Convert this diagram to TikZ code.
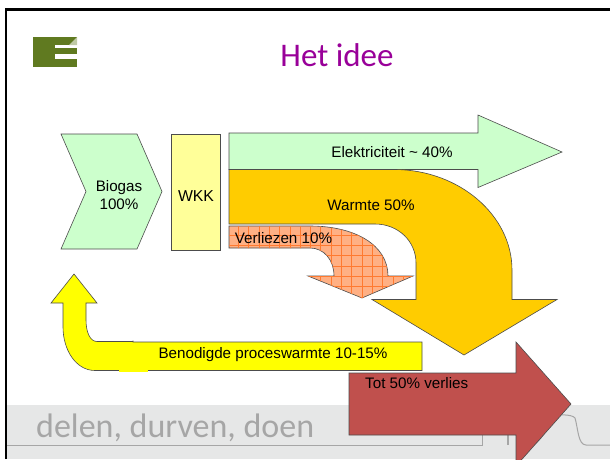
\documentclass[tikz,border=0pt]{standalone}
\usepackage{fontspec}
\setmainfont{Liberation Sans}
\newfontfamily\calib{Carlito}
\definecolor{mint}{HTML}{CCFFCC}
\definecolor{wkkyel}{HTML}{FFFF99}
\definecolor{warm}{HTML}{FFCC00}
\definecolor{lossor}{HTML}{FFB084}
\definecolor{gridor}{HTML}{FF7A30}
\definecolor{pureyel}{HTML}{FFFF00}
\definecolor{redb}{HTML}{C0504D}
\definecolor{band}{HTML}{E6E7E7}
\definecolor{slog}{HTML}{A6A6A6}
\definecolor{titlep}{HTML}{990099}
\definecolor{logog}{HTML}{607A20}
\tikzset{
  shapeline/.style={draw=black!70,line width=0.6pt,line join=miter},
  lab/.style={font=\fontsize{15.2}{18}\selectfont,text=black,inner sep=0pt,align=center},
}
\begin{document}
\begin{tikzpicture}[x=1pt,y=-1pt]
\useasboundingbox (0,0) rectangle (610,459);
\fill[white] (0,0) rectangle (610,459);
% footer band
\fill[band] (7,405) rectangle (610,459);
\draw[slog,line width=1pt] (7,445) -- (482,445) -- (482,431);
\draw[slog,line width=1.5pt] (508,431) -- (508,445);
\draw[slog,line width=1pt] (533,445) .. controls (542,440) and (546,430) .. (552,417) .. controls (556,414) and (572,414) .. (575,418) .. controls (578,428) and (578,445) .. (586,445) -- (610,445);
\node[anchor=base west,inner sep=0pt,text=slog,font=\calib\fontsize{34}{40}\selectfont] (slogan) at (36,437) {delen, durven, doen};
% frame
\draw[black,line width=2.4pt] (6.2,459) -- (6.2,9.5) -- (610,9.5);
% logo
\fill[logog] (33,37) rectangle (77,67);
\fill[white] (55,45) rectangle (77,48);
\fill[white] (55,54) rectangle (77,59);
\fill[logog!40!white] (77,37) -- (69,45) -- (77,45) -- cycle;
% title
\node[anchor=base,inner sep=0pt,text=titlep,font=\calib\fontsize{33}{38}\selectfont] (title) at (337,66) {Het idee};
% Biogas
\draw[shapeline,fill=mint] (61,134) -- (137,134) -- (162,191.5) -- (137,249) -- (61,249) -- (86,191.5) -- cycle;
\node[lab] (biogas) at (119,195) {Biogas\\100\%};
% WKK
\node[draw=black!70,line width=0.6pt,fill=wkkyel,minimum width=48.5pt,minimum height=116pt,inner sep=0pt,anchor=north west] (wkk) at (171.3,134) {};
\node[inner sep=0pt,font=\fontsize{15.8}{18}\selectfont] (wkklabel) at (196,196.5) {WKK};
% electricity
\draw[shapeline,fill=mint] (229,133) -- (478,133) -- (478,115) -- (562,152) -- (478,187.5) -- (478,169.5) -- (229,169.5) -- cycle;
\node[lab] (elek) at (392,152) {Elektriciteit \char`\~{} 40\%};
% warmth
\draw[shapeline,fill=warm] (229,169.5) -- (395,169.5) .. controls (459,170) and (512,215) .. (512,270) -- (512,299.5) -- (557,299.5) -- (464,355) -- (372,299.5) -- (416,299.5) -- (416,263) .. controls (416,241) and (398,224) .. (375,224) -- (229,224) -- cycle;
\node[lab] (warmte) at (371,205) {Warmte 50\%};
% losses
\draw[shapeline,fill=lossor] (229,226) -- (310,226) .. controls (355,226) and (388,245) .. (388,276) -- (413,276) -- (362,298) -- (308,276) -- (334,276) .. controls (334,260) and (324,248) .. (310,248) -- (229,248) -- cycle;
\begin{scope}
\clip (229,226) -- (310,226) .. controls (355,226) and (388,245) .. (388,276) -- (413,276) -- (362,298) -- (308,276) -- (334,276) .. controls (334,260) and (324,248) .. (310,248) -- (229,248) -- cycle;
\foreach \x in {238.3,248.6,...,420} \draw[gridor,line width=0.45pt] (\x,220) -- (\x,300);
\foreach \y in {235,245.3,...,300} \draw[gridor,line width=0.45pt] (225,\y) -- (420,\y);
\end{scope}
\node[lab] (verl) at (283.5,238.5) {Verliezen 10\%};
% process heat
\draw[shapeline,fill=pureyel] (422,342) -- (422,370.5) -- (95,370.5) .. controls (76,370.5) and (63,350) .. (63,327) -- (63,303) -- (51,303) -- (74,274) -- (97,303) -- (86,303) -- (86,320) .. controls (86,332) and (90,341.5) .. (97,341.5) -- (133,341.5) -- (133,340.5) -- (133,342) -- cycle;
\fill[pureyel] (119,367) rectangle (148,372);
\node[lab] (proc) at (273,354.5) {Benodigde proceswarmte 10-15\%};
% loss arrow
\draw[shapeline,fill=redb] (349,373) -- (516,373) -- (516,342) -- (571,404) -- (516,466) -- (516,435) -- (349,435) -- cycle;
\node[lab,anchor=base west] (tot) at (365,388) {Tot 50\% verlies};
\end{tikzpicture}
\end{document}
